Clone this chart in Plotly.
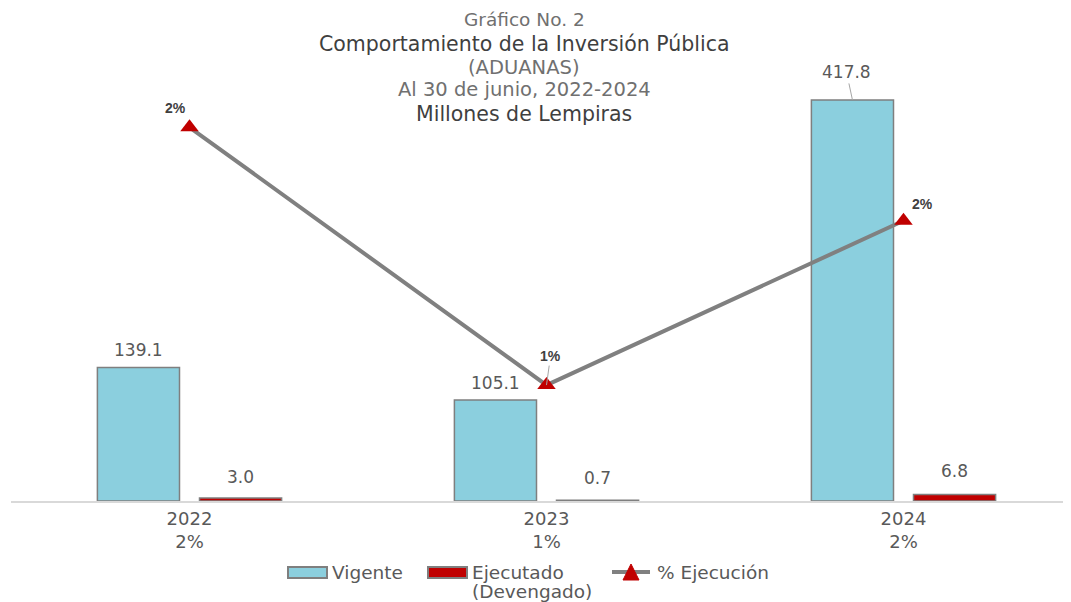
import plotly.graph_objects as go

years = ["2022", "2023", "2024"]
tick_pct = ["2%", "1%", "2%"]
vigente = [139.1, 105.1, 417.8]
ejecutado = [3.0, 0.7, 6.8]
pct = [0.0216, 0.0067, 0.0162]
pct_labels = ["2%", "1%", "2%"]

FONT = "DejaVu Sans"
GREY = "#595959"
BLUE = "#8BCFDE"
RED = "#C00000"
BORDER = "#7f7f7f"

# page body has an 8px margin: figure is drawn from (8, 8) in the window
OFF = 8
FIG_W, FIG_H = 1071 - OFF, 602 - OFF
# plot area in window pixels
L, R, T, B = 11, 1071, 60, 501
W, H = R - L, B - T


def px(x):
    return (x - L) / W


def py(y):
    return (B - y) / H


fig = go.Figure()
xi = [0, 1, 2]
fig.add_trace(go.Bar(
    x=xi, y=vigente, name="Vigente", width=0.23, offset=-0.258,
    marker=dict(color=BLUE, line=dict(color=BORDER, width=1.5)),
))
fig.add_trace(go.Bar(
    x=xi, y=ejecutado, name="Ejecutado (Devengado)", width=0.23, offset=0.028,
    marker=dict(color=RED, line=dict(color=BORDER, width=1.5)),
))
fig.add_trace(go.Scatter(
    x=xi, y=pct, name="% Ejecución", yaxis="y2", mode="lines+markers",
    line=dict(color="#808080", width=4),
    marker=dict(symbol="triangle-up", size=16, color=RED),
))

# bar labels
for i, v in enumerate(vigente):
    if i == 2:
        fig.add_annotation(x=i - 0.143, y=v, xref="x", yref="y", text=f"{v:.1f}",
                           showarrow=True, arrowhead=0, arrowcolor="#a6a6a6", arrowwidth=1,
                           ax=-6, ay=-28, font=dict(family=FONT, size=17, color=GREY))
    else:
        fig.add_annotation(x=i - 0.143, y=v, xref="x", yref="y", text=f"{v:.1f}",
                           showarrow=False, yanchor="bottom", yshift=5,
                           font=dict(family=FONT, size=17, color=GREY))
lab_shift = [9, 10, 11]
for i, v in enumerate(ejecutado):
    fig.add_annotation(x=i + 0.143, y=v, xref="x", yref="y", text=f"{v:.1f}",
                       showarrow=False, yanchor="bottom", yshift=lab_shift[i],
                       font=dict(family=FONT, size=17, color=GREY))

# percent labels
pl = [dict(xs=-14, ys=19, arrow=False), dict(xs=4, ys=28, arrow=True), dict(xs=19, ys=17, arrow=False)]
for i, v in enumerate(pct):
    p = pl[i]
    if p["arrow"]:
        fig.add_annotation(x=i, y=v, xref="x", yref="y2", text=f"<b>{pct_labels[i]}</b>",
                           showarrow=True, arrowhead=0, arrowcolor="#a6a6a6", arrowwidth=1,
                           ax=4, ay=-29, font=dict(family="Liberation Sans", size=14, color="#404040"))
    else:
        fig.add_annotation(x=i, y=v, xref="x", yref="y2", text=f"<b>{pct_labels[i]}</b>",
                           showarrow=False, xshift=p["xs"], yshift=p["ys"],
                           font=dict(family="Liberation Sans", size=14, color="#404040"))

# title lines: (text, emphasised, centre y in window px, font size)
titles = [("Gráfico No. 2", False, 20, 18.5), ("Comportamiento de la Inversión Pública", True, 44, 20.5),
          ("(ADUANAS)", False, 67, 19.5), ("Al 30 de junio, 2022-2024", False, 90, 19.5),
          ("Millones de Lempiras", True, 114, 20.5)]
for t, b, y, s in titles:
    fig.add_annotation(x=px(524), y=py(y), xref="paper", yref="paper", xanchor="center",
                       yanchor="middle", showarrow=False,
                       text=t, font=dict(family=FONT, size=s,
                                         color="#3f3f3f" if b else "#707070"))

# custom legend
ly = 572
shapes = [
    dict(type="rect", xref="paper", yref="paper", x0=px(288), x1=px(327), y0=py(578), y1=py(567),
         fillcolor=BLUE, line=dict(color=BORDER, width=2)),
    dict(type="rect", xref="paper", yref="paper", x0=px(428), x1=px(467), y0=py(578), y1=py(567),
         fillcolor=RED, line=dict(color=BORDER, width=2)),
    dict(type="line", xref="paper", yref="paper", x0=px(612), x1=px(650), y0=py(ly), y1=py(ly),
         line=dict(color="#808080", width=4)),
    dict(type="path", xref="paper", yref="paper",
         path=f"M {px(623)},{py(580)} L {px(639)},{py(580)} L {px(631)},{py(564)} Z",
         fillcolor=RED, line=dict(color=RED, width=1)),
]
fig.update_layout(shapes=shapes)
for text, x, y in [("Vigente", 330, ly), ("Ejecutado", 470, ly), ("(Devengado)", 470, 591),
                   ("% Ejecución", 655, ly)]:
    fig.add_annotation(x=px(x), y=py(y), xref="paper", yref="paper", xanchor="left",
                       yanchor="middle", showarrow=False, text=text,
                       font=dict(family=FONT, size=18.5, color=GREY))

fig.update_layout(
    width=FIG_W, height=FIG_H,
    margin=dict(l=L - OFF, r=1071 - R, t=T - OFF, b=602 - B, autoexpand=False),
    paper_bgcolor="white", plot_bgcolor="white",
    barmode="overlay",
    showlegend=False,
    xaxis=dict(tickmode="array", tickvals=xi,
               ticktext=[f"{y}<br>{p}" for y, p in zip(years, tick_pct)],
               range=[-0.5, W / 357 - 0.5], showline=True, linecolor="#d9d9d9", linewidth=2,
               showgrid=False, ticks="", ticklen=0,
               tickfont=dict(family=FONT, size=18, color=GREY)),
    yaxis=dict(range=[0, H / 0.96], visible=False, showgrid=False),
    yaxis2=dict(range=[0, H / 17300], overlaying="y", visible=False, showgrid=False),
)

fig.write_html("out.html")
